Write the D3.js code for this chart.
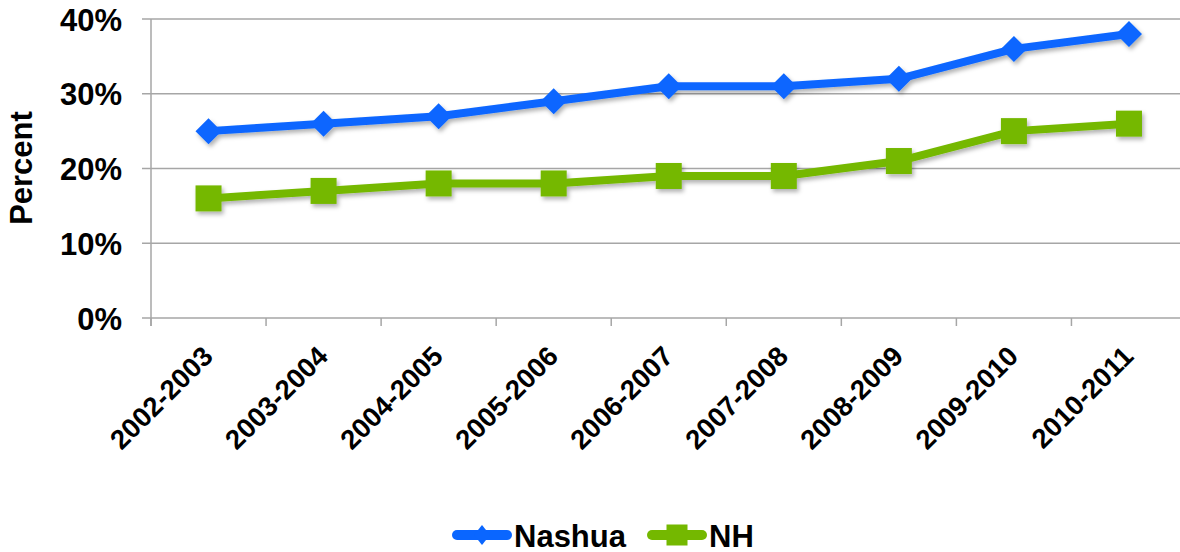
<!DOCTYPE html>
<html>
<head>
<meta charset="utf-8">
<script src="https://cdn.jsdelivr.net/npm/d3@7"></script>
<style>
  html, body { margin: 0; padding: 0; background: #fff; }
  svg { display: block; }
  text { font-family: "Liberation Sans", Arial, Helvetica, sans-serif; font-weight: bold; fill: #000; }
</style>
</head>
<body>
<svg id="chart" width="1180" height="552"></svg>
<script>
// School years on the category axis
const years = ["2002-2003", "2003-2004", "2004-2005", "2005-2006", "2006-2007",
               "2007-2008", "2008-2009", "2009-2010", "2010-2011"];
// Percent values per year
const nashua = [25, 26, 27, 29, 31, 31, 32, 36, 38];
const nh     = [16, 17, 18, 18, 19, 19, 21, 25, 26];
const seriesNames = ["Nashua", "NH"];
const yTicks = [0, 10, 20, 30, 40];

(function () {
const svg = d3.select("#chart");
const plotLeft = 151, plotRight = 1186.5, plotTop = 19, plotBottom = 318;
const gridColor = "#a6a6a6";
const blue = "#0a66ff";
const green = "#74b800";

const x = d3.scaleBand().domain(years).range([plotLeft, plotRight]).paddingInner(0).paddingOuter(0);
const y = d3.scaleLinear().domain([0, 40]).range([plotBottom, plotTop]);
const cx = d => x(d) + x.bandwidth() / 2;

// drop shadow used by the series
const defs = svg.append("defs");
const f = defs.append("filter").attr("id", "shadow").attr("x", "-20%").attr("y", "-20%").attr("width", "140%").attr("height", "140%");
f.append("feDropShadow").attr("dx", 2).attr("dy", 3).attr("stdDeviation", 2)
  .attr("flood-color", "#000").attr("flood-opacity", 0.3);

// horizontal gridlines with short outward ticks
svg.append("g").selectAll("line").data(yTicks).join("line")
  .attr("x1", plotLeft - 9).attr("x2", 1180)
  .attr("y1", d => y(d)).attr("y2", d => y(d))
  .attr("stroke", gridColor).attr("stroke-width", 1.5);

// value axis labels
const yAxis = svg.append("g").attr("transform", `translate(${plotLeft},0)`)
  .call(d3.axisLeft(y).tickValues(yTicks).tickSize(0).tickPadding(29).tickFormat(d => d + "%"));
yAxis.select(".domain").remove();
yAxis.selectAll("text").style("font-size", "31px").attr("dy", "0.36em");

// vertical axis line
svg.append("line").attr("x1", plotLeft).attr("x2", plotLeft).attr("y1", plotTop).attr("y2", plotBottom + 8)
  .attr("stroke", gridColor).attr("stroke-width", 1.5);

// category tick marks at band edges
const edges = years.map(d => x(d)).concat([plotRight]);
svg.append("g").selectAll("line").data(edges).join("line")
  .attr("x1", d => d).attr("x2", d => d).attr("y1", plotBottom).attr("y2", plotBottom + 8)
  .attr("stroke", gridColor).attr("stroke-width", 1.5);

// rotated category labels
svg.append("g").selectAll("text").data(years).join("text")
  .attr("transform", d => `translate(${cx(d) + 6},${plotBottom + 40}) rotate(-45)`)
  .attr("text-anchor", "end")
  .style("font-size", "27.5px")
  .text(d => d);

// axis title
svg.append("text").attr("transform", "translate(32,168) rotate(-90)")
  .attr("text-anchor", "middle").style("font-size", "31px").text("Percent");

const line = d3.line().x((d, i) => cx(years[i])).y(d => y(d));

// Nashua series
const gN = svg.append("g").attr("filter", "url(#shadow)");
gN.append("path").datum(nashua).attr("d", line)
  .attr("fill", "none").attr("stroke", blue).attr("stroke-width", 8).attr("stroke-linejoin", "round");
gN.selectAll("path.m").data(nashua).join("path").attr("class", "m")
  .attr("d", "M0,-13L13,0L0,13L-13,0Z")
  .attr("transform", (d, i) => `translate(${cx(years[i])},${y(d)})`)
  .attr("fill", blue);

// NH series
const gH = svg.append("g").attr("filter", "url(#shadow)");
gH.append("path").datum(nh).attr("d", line)
  .attr("fill", "none").attr("stroke", green).attr("stroke-width", 8).attr("stroke-linejoin", "round");
gH.selectAll("rect").data(nh).join("rect")
  .attr("x", (d, i) => cx(years[i]) - 13).attr("y", d => y(d) - 13)
  .attr("width", 26).attr("height", 26)
  .attr("fill", green);

// legend
const legend = svg.append("g");
const items = [
  { name: seriesNames[0], color: blue, x0: 452, marker: "diamond" },
  { name: seriesNames[1], color: green, x0: 647, marker: "square" }
];
const ly = 535;
items.forEach(it => {
  const g = legend.append("g");
  g.append("line").attr("x1", it.x0 + 5).attr("x2", it.x0 + 55).attr("y1", ly).attr("y2", ly)
    .attr("stroke", it.color).attr("stroke-width", 10).attr("stroke-linecap", "round");
  if (it.marker === "diamond") {
    g.append("path").attr("d", "M0,-10L8,0L0,10L-8,0Z")
      .attr("transform", `translate(${it.x0 + 30},${ly})`).attr("fill", it.color);
  } else {
    g.append("rect").attr("x", it.x0 + 30 - 10.5).attr("y", ly - 10.5)
      .attr("width", 21).attr("height", 21).attr("fill", it.color);
  }
  g.append("text").attr("x", it.x0 + 62).attr("y", ly + 11.5)
    .style("font-size", "31px").text(it.name);
});
})();
</script>
</body>
</html>
